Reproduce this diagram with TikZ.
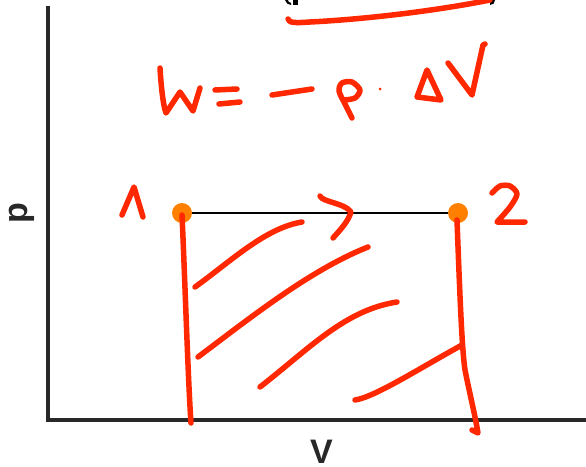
\documentclass[tikz,border=0pt]{standalone}
\usepackage{fontspec}
\setmainfont{Liberation Sans}
\definecolor{inkred}{RGB}{255,40,0}
\definecolor{dotorange}{RGB}{255,128,0}
\definecolor{axisgray}{RGB}{40,40,40}
\begin{document}
\begin{tikzpicture}[x=1pt,y=-1pt,
  ink/.style={draw=inkred, line width=5.5pt, line cap=round, line join=round},
  axisline/.style={draw=axisgray, line width=4pt},
  dotnode/.style={circle, fill=dotorange, minimum size=20pt, inner sep=0pt},
  lbl/.style={font=\bfseries\fontsize{34}{34}\selectfont, text=axisgray, inner sep=0pt}]
\useasboundingbox (0,0) rectangle (586,466);
% axes
\coordinate (ytop) at (48,6);
\coordinate (o) at (48,420);
\coordinate (xend) at (590,420);
\draw[axisline] (ytop) -- (o) -- (xend);
\node[lbl, rotate=90] (plabel) at (22,213) {p};
\node[lbl, anchor=base] (vlabel) at (321.5,463) {V};
% cut-off black marks at top
\fill[black] (285,0) .. controls (286,3) and (288,5) .. (291,5) -- (291,3) .. controls (289,3) and (288,1) .. (288,0) -- cycle;
\fill[black] (293,0) rectangle (298,5);
\fill[black] (489,0) -- (495,0) .. controls (495,3) and (493,5) .. (490,5) -- (490,3) -- cycle;
% process line and states
\node[dotnode] (d1) at (182,213) {};
\node[dotnode] (d2) at (458,213) {};
\draw[line width=2.5pt, black] (d1) -- (d2);
% handwritten annotations
\draw[ink] (288,19) .. controls (289,23) and (295,23) .. (310,22) .. controls (370,19) and (440,10) .. (490,0);
% W
\draw[ink] (160,68) .. controls (161,85) and (163,105) .. (166,113) -- (180,92) -- (193,111) -- (200,88);
% =
\draw[ink] (215,90) -- (237,89);
\draw[ink] (219,104) -- (240,102);
% -
\draw[ink] (272,95) -- (312,89);
% p
\draw[ink] plot[smooth] coordinates {(352,118) (345,104) (339,91) (342,83) (352,82) (360,90) (355,98) (344,100)};
\fill[inkred] (380,89) circle (1.5);
% Delta
\draw[ink] (417,97) -- (427,70) -- (441,100) -- cycle;
% V
\draw[ink] (448,63) -- (472,95) -- (483,45) -- (485,44);
% 1 and 2
\draw[ink] (122,215) -- (134,187) -- (143,217);
\draw[ink] plot[smooth] coordinates {(492,193) (500,186) (510,186) (517,194) (510,207) (497,222)} -- (525,222);
% arrow
\draw[ink] (320,196) .. controls (322,202) and (345,203) .. (351,212) .. controls (348,222) and (340,230) .. (333,238);
% isobaric verticals
\draw[ink] (182,215) .. controls (185,280) and (188,380) .. (191,423);
\draw[ink] (457,220) .. controls (460,300) and (462,350) .. (465,370) .. controls (470,395) and (475,415) .. (478,433) -- (472,430);
% hatching
\draw[ink] (195,287) .. controls (230,262) and (265,228) .. (302,222);
\draw[ink] (198,357) .. controls (250,318) and (310,270) .. (368,247);
\draw[ink] (260,387) .. controls (310,348) and (345,310) .. (397,302);
\draw[ink] (355,400) .. controls (375,397) and (420,368) .. (462,345);
\end{tikzpicture}
\end{document}
